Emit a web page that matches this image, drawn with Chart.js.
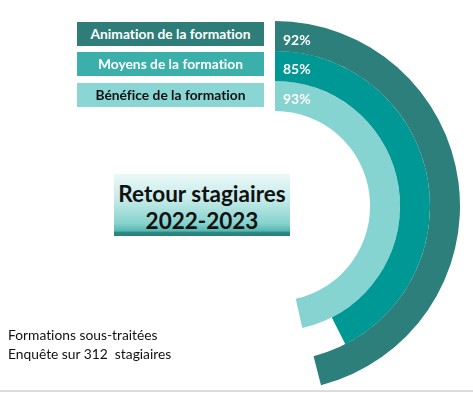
<!DOCTYPE html>
<html>
<head>
<meta charset="utf-8">
<script src="https://cdn.jsdelivr.net/npm/chart.js@4"></script>
<style>
  html, body { margin: 0; padding: 0; background: #fff; }
  #wrap { position: relative; width: 473px; height: 393px; overflow: hidden; font-family: Lato, "Open Sans", sans-serif; font-variant-ligatures: none; }
  #chart { position: absolute; left: 0; top: 0; }
  .bar { position: absolute; left: 77px; width: 187px; height: 24px; line-height: 24px;
         text-align: center; font-weight: bold; font-size: 13.8px; }
  #title { position: absolute; left: 114px; top: 174px; width: 176px; height: 62px;
           background: linear-gradient(to bottom, #eaf8f7 0%, #c6ebe9 40%, #86d2cd 80%, #55b6b0 92%, #2c8a85 94%, #2a7f7a 100%);
           text-align: center; font-weight: bold; font-size: 22.5px; line-height: 27px; color: #111; padding-top: 6px; box-sizing: border-box; }
  #note { position: absolute; left: 8px; top: 325px; font-size: 13.8px; line-height: 19px; color: #111; }
  #rule { position: absolute; left: 0; top: 390px; width: 473px; height: 2px; background: #dcdcdc; }
</style>
</head>
<body>
<div id="wrap">
  <canvas id="chart" width="473" height="393"></canvas>
  <div id="bars"></div>
  <div id="title">Retour stagiaires<br>2022-2023</div>
  <div id="note">Formations sous-traitées<br>Enquête sur 312&nbsp; stagiaires</div>
  <div id="rule"></div>
</div>
<script>
document.addEventListener('DOMContentLoaded', function() {

    const categories = ['Animation de la formation', 'Moyens de la formation', 'Bénéfice de la formation'];
    const values = [92, 85, 93];
    const maxValue = 100;

    const ringColors = ['#2d7f7b', '#009895', '#86d4d2'];
    const barColors = ['#2e7d78', '#3bb0aa', '#8ad6d4'];
    const barText = ['#ffffff', '#ffffff', '#111111'];
    const barTops = [22, 52, 83];

    // coloured boxes on the left
    const bars = document.getElementById('bars');
    categories.forEach(function(name, i) {
        const d = document.createElement('div');
        d.className = 'bar';
        d.style.top = barTops[i] + 'px';
        d.style.background = barColors[i];
        d.style.color = barText[i];
        d.textContent = name;
        bars.appendChild(d);
    });

    // percentage text at the start of each ring
    const ringLabels = {
        id: 'ringLabels',
        afterDatasetsDraw(chart) {
            const ctx = chart.ctx;
            ctx.save();
            ctx.font = 'bold 14px Lato, "Open Sans", sans-serif';
            ctx.fillStyle = '#ffffff';
            ctx.textAlign = 'left';
            ctx.textBaseline = 'middle';
            chart.data.datasets.forEach(function(ds, i) {
                const arc = chart.getDatasetMeta(i).data[0];
                const mid = (arc.innerRadius + arc.outerRadius) / 2;
                ctx.fillText(values[i] + '%', arc.x + 8, arc.y - mid + 4);
            });
            ctx.restore();
        }
    };

    const ctx = document.getElementById('chart').getContext('2d');
    new Chart(ctx, {
        type: 'doughnut',
        data: {
            labels: ['value', 'rest'],
            datasets: values.map(function(v, i) {
                return {
                    label: categories[i],
                    data: [v, maxValue - v],
                    backgroundColor: [ringColors[i], 'rgba(0,0,0,0)'],
                    borderWidth: 0
                };
            })
        },
        options: {
            responsive: false,
            animation: false,
            rotation: 0,
            circumference: 180,
            radius: 185,
            cutout: '51.4%',
            layout: {
                padding: { left: 275, right: 13, top: 21, bottom: 2 }
            },
            plugins: {
                legend: { display: false },
                tooltip: { enabled: false }
            }
        },
        plugins: [ringLabels]
    });

});
</script>
</body>
</html>
